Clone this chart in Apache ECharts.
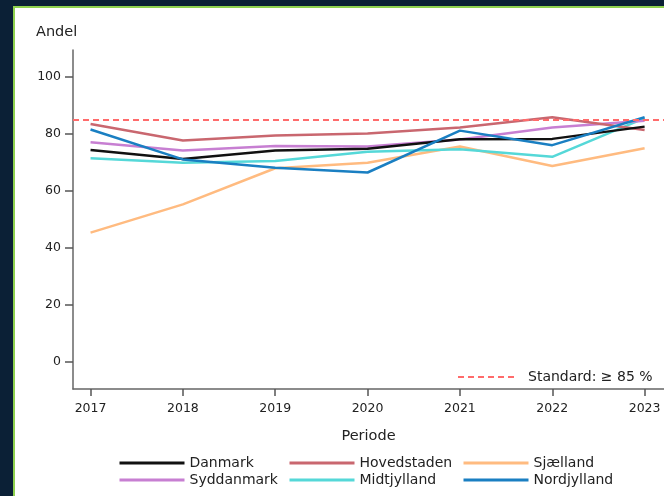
<!DOCTYPE html>
<html>
<head>
<meta charset="utf-8">
<script src="https://cdn.jsdelivr.net/npm/echarts@6/dist/echarts.min.js"></script>
<style>
  html, body { margin: 0; padding: 0; background: #0b2036; overflow: hidden; }
  #frame {
    position: absolute; left: 13px; top: 6px; width: 700px; height: 540px;
    background: #ffffff; border-left: 2px solid #8fd14f; border-top: 2px solid #8fd14f;
  }
  #chart { position: absolute; left: 0; top: 0; width: 664px; height: 496px; }
</style>
</head>
<body>
<div id="frame"></div>
<div id="chart"></div>
<script>
// years on the x axis
var years = [2017, 2018, 2019, 2020, 2021, 2022, 2023]
var yTicks = [0, 20, 40, 60, 80, 100]
var standardValue = 85

// andel per region
var danmark     = [74.4, 71.2, 74.2, 74.8, 78.2, 78.3, 82.6]
var hovedstaden = [83.5, 77.7, 79.5, 80.2, 82.3, 85.9, 81.4]
var sjaelland   = [45.4, 55.3, 68.0, 69.9, 75.6, 68.8, 75.0]
var syddanmark  = [77.1, 74.2, 75.8, 75.6, 78.1, 82.3, 84.7]
var midtjylland = [71.5, 69.9, 70.5, 73.8, 74.7, 72.0, 85.6]
var nordjylland = [81.6, 71.1, 68.2, 66.5, 81.2, 76.1, 85.9]

var font = 'DejaVu Sans'

function pairs(vals) {
    return years.map(function (y, i) { return [y, vals[i]] })
}

function lineSeries(name, vals, color) {
    return {
        name: name,
        type: 'line',
        data: pairs(vals),
        symbol: 'none',
        lineStyle: { color: color, width: 2.5 },
        itemStyle: { color: color }
    }
}

var chart = echarts.init(document.getElementById('chart'))

var legendBase = {
    orient: 'vertical',
    top: 456,
    padding: 0,
    itemWidth: 65,
    itemHeight: 14,
    itemGap: 3,
    itemStyle: { opacity: 0 },
    lineStyle: { width: 3 },
    textStyle: { fontFamily: font, fontSize: 14, color: '#222' }
}

chart.setOption({
    animation: false,
    title: {
        text: 'Andel',
        left: 36,
        top: 25,
        padding: 0,
        textStyle: { fontFamily: font, fontSize: 14.5, fontWeight: 'normal', color: '#222' }
    },
    grid: { left: 73, right: 0, top: 50, bottom: 107 },
    legend: [
        Object.assign({ left: 118, data: ['Danmark', 'Syddanmark'] }, legendBase),
        Object.assign({ left: 288, data: ['Hovedstaden', 'Midtjylland'] }, legendBase),
        Object.assign({ left: 462, data: ['Sjælland', 'Nordjylland'] }, legendBase),
        {
            left: 457,
            top: 370,
            padding: 0,
            itemWidth: 60,
            itemHeight: 14,
            itemStyle: { opacity: 0 },
            data: ['Standard: ≥ 85 %'],
            textStyle: { fontFamily: font, fontSize: 14, color: '#222', padding: [0, 0, 0, 5] }
        }
    ],
    xAxis: {
        type: 'value',
        min: 2016.81,
        max: 2023.21,
        name: 'Periode',
        nameLocation: 'middle',
        nameGap: 40,
        nameTextStyle: { fontFamily: font, fontSize: 14.5, color: '#222' },
        splitLine: { show: false },
        axisLine: { onZero: false, lineStyle: { color: '#666', width: 1.5 } },
        axisTick: { customValues: years, length: 7, lineStyle: { color: '#555', width: 1.5 } },
        axisLabel: {
            customValues: years,
            margin: 13,
            fontFamily: font, fontSize: 12.5, color: '#222',
            formatter: function (v) { return String(Math.round(v)) }
        }
    },
    yAxis: {
        type: 'value',
        min: -9.5,
        max: 109.5,
        splitLine: { show: false },
        axisLine: { show: true, lineStyle: { color: '#666', width: 1.5 } },
        axisTick: { show: true, customValues: yTicks, length: 8, lineStyle: { color: '#555', width: 1.5 } },
        axisLabel: {
            customValues: yTicks,
            margin: 12,
            fontFamily: font, fontSize: 12.5, color: '#222'
        }
    },
    series: [
        {
            name: 'Standard: ≥ 85 %',
            type: 'line',
            data: [],
            symbol: 'none',
            lineStyle: { color: '#ff6b6b', width: 2, type: [6, 4] },
            itemStyle: { color: '#ff6b6b' },
            markLine: {
                silent: true,
                symbol: 'none',
                label: { show: false },
                lineStyle: { color: '#ff6b6b', width: 2, type: [6, 4] },
                data: [{ yAxis: standardValue }]
            }
        },
        lineSeries('Sjælland', sjaelland, '#ffbb80'),
        lineSeries('Midtjylland', midtjylland, '#55d8d8'),
        lineSeries('Syddanmark', syddanmark, '#c77fd2'),
        lineSeries('Hovedstaden', hovedstaden, '#c9676f'),
        lineSeries('Danmark', danmark, '#111111'),
        lineSeries('Nordjylland', nordjylland, '#1a7fc2')
    ]
})
</script>
</body>
</html>
